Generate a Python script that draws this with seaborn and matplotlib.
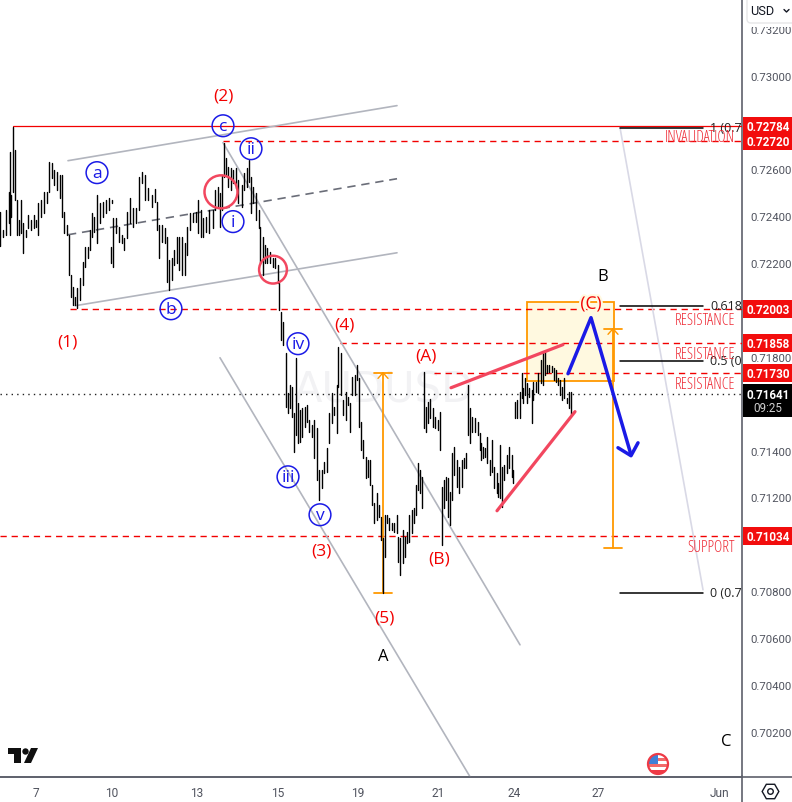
import numpy as np
import pandas as pd
import matplotlib
matplotlib.use("Agg")
import matplotlib.pyplot as plt
import matplotlib.patheffects as pe
from matplotlib.patches import Rectangle, Circle, Polygon, FancyBboxPatch
import seaborn as sns

# Position of each bar on the session axis
bar_pos = [0,3,6,9,10,11,13,15,17,19,21,23,26,28,31,34,36,38,41,44,47,49,52,54,57,60,62,64,67,69,71,73,75,77,80,83,85,88,90,92,94,97,100,103,106,109,112,111,113,116,119,122,124,127,130,133,136,139,142,145,148,
152,155,157,159,162,165,167,169,172,174,177,179,182,185,187,190,193,196,198,201,203,206,209,213,215,218,220,222,224,226,228,231,233,236,238,242,244,247,249,251,253,256,259,260,263,265,267,270,273,275,278,279,
281,283,286,288,290,292,294,296,298,300,302,305,307,309,312,314,317,319,322,324,327,329,332,334,337,338,341,343,346,348,350,352,355,357,359,361,363,366,368,
370,372,374,377,379,381,383,385,387,389,392,394,397,398,400,403,405,407,409,412,414,416,418,420,422,424,426,428,430,433,435,438,440,442,444,446,448,450,452,454,457,459,462,464,466,468,470,472,475,478,480,
481,483,485,487,490,492,494,497,498,500,502,504,507,509,512,513,515,517,520,522,523,525,527,529,532,533,536,538,541,543,545,547,549,552,554,556,558,560,562,564,567,569,571]

# Bar highs and lows, in units of 0.00001 USD
highs = [72419,72342,72428,72505,72675,72492,72782,72684,72470,72385,72470,72372,72342,72406,72385,72406,72385,72458,72470,72505,72505,72633,72628,72598,72590,72577,72577,72419,72364,72321,72150,72099,72056,72095,72138,72206,72270,72270,72342,72415,72398,72492,72458,72462,72470,72479,72470,72270,72394,72394,72355,72321,72308,72419,72479,72436,72436,72569,72590,72577,72522,
72492,72517,72462,72364,72364,72351,72312,72214,72223,72257,72312,72312,72312,72287,72355,72415,72415,72419,72470,72428,72394,72398,72428,72428,72513,72526,72500,72577,72713,72650,72611,72607,72598,72607,72556,72534,72586,72607,72641,72569,72526,72500,72428,72355,72312,72278,72266,72249,72223,72223,72193,72116,
71993,71950,71817,71647,71681,71672,71561,71796,71604,71574,71583,71587,71595,71531,71510,71531,71497,71318,71318,71352,71412,71561,71647,71587,71681,71843,71817,71617,71651,71630,71604,71715,71724,71766,71711,71523,71446,71373,71361,
71361,71254,71177,71220,71169,71118,71028,71126,71126,71113,71092,71092,71126,71032,71028,71062,71032,71053,71126,71147,71156,71254,71348,71318,71288,71736,71587,71608,71621,71583,71544,71531,71565,71245,71275,71288,71284,71224,71391,71416,71361,71331,71361,71369,71391,71681,71583,71544,71540,71523,71476,
71433,71416,71412,71459,71361,71446,71331,71305,71263,71425,71331,71339,71382,71416,71382,71318,71608,71617,71651,71732,71668,71711,71689,71668,71659,71694,71694,71732,71788,71822,71822,71766,71766,71762,71753,71745,71711,71702,71672,71711,71625,71651,71651]
lows = [72274,72312,72321,72372,72321,72398,72505,72470,72321,72321,72329,72244,72312,72351,72342,72351,72355,72321,72398,72415,72458,72505,72564,72534,72513,72479,72398,72329,72321,72150,72056,72022,72022,72009,72044,72108,72184,72223,72257,72312,72334,72287,72372,72398,72415,72428,72458,72202,72184,72329,72291,72287,72257,72308,72372,72355,72372,72428,72543,72470,72470,
72441,72462,72342,72223,72291,72287,72120,72086,72129,72193,72202,72172,72150,72150,72236,72342,72377,72377,72329,72312,72312,72334,72329,72351,72428,72441,72355,72428,72569,72577,72526,72513,72543,72522,72458,72441,72513,72526,72547,72415,72458,72385,72351,72202,72150,72202,72202,72202,72184,72180,72116,72001,
71873,71852,71587,71561,71583,71544,71395,71467,71433,71438,71459,71502,71523,71480,71459,71369,71275,71190,71242,71305,71310,71433,71519,71553,71476,71672,71638,71553,71531,71595,71480,71638,71638,71702,71502,71403,71369,71284,71288,
71254,71169,71092,71105,71118,71019,70793,70947,71092,71062,71062,71053,71049,70925,70870,70921,70947,71006,71011,71049,71092,71126,71233,71220,71156,71497,71480,71519,71540,71502,71497,71489,71403,70998,71156,71190,71118,71084,71190,71297,71245,71220,71245,71327,71327,71467,71433,71480,71480,71467,71403,
71361,71369,71373,71348,71297,71310,71242,71220,71203,71199,71160,71275,71305,71327,71288,71263,71540,71540,71540,71625,71604,71638,71604,71630,71519,71617,71651,71647,71689,71681,71724,71732,71736,71736,71702,71694,71681,71638,71617,71625,71604,71583,71557]

price_ticks = [0.732,0.730,0.726,0.724,0.722,0.718,0.714,0.712,0.708,0.706,0.704,0.702]
date_positions = [36,112,197,278,358,438,514,598,720]
date_labels = ["7","10","13","15","19","21","24","27","Jun"]

level_prices = [0.72720,0.72003,0.71858,0.71730,0.71034]
level_starts = [223,70,340,434,0]
badge_prices = [0.72784,0.72720,0.72003,0.71858,0.71730,0.71034]
last_price = 0.71641

wave_marks = ["a","c","ii","i","b","iv","iii","v"]
wave_x = [97,223,251,233,171,298,288,320]
wave_y = [.72586,.72786,.72688,.72377,.72005,.71856,.71288,.71126]

degree_marks = ["(2)","(1)","(4)","(A)","(3)","(B)","(5)","(C)"]
degree_x = [223,67,344,426,321,439,384,591]
degree_y = [.72914,.71865,.71937,.71805,.70972,.70938,.70686,.72022]

major_marks = ["B","A","C"]
major_x = [603,383,726]
major_y = [.72146,.70524,.70161]

zone_names = ["INVALIDATION","RESISTANCE","RESISTANCE","RESISTANCE","SUPPORT"]
zone_y = [.72739,.71958,.71813,.71685,.70989]

fib_names = ["1 (0.7","0.618","0.5 (0","0 (0.7"]
fib_y = [.72778,.72018,.71783,.70793]

INK = "#131722"
AXIS_GREY = "#5d606b"
RED = "#f20000"
PINK = "#f2475f"
BLUE = "#1a1ae6"
ORANGE = "#ff9800"

sns.set_theme(style="white")
plt.rcParams["font.family"] = ["Open Sans", "DejaVu Sans"]

fig = plt.figure(figsize=(7.92, 8.03), dpi=100, facecolor="white")
ax = fig.add_axes([0, 25.5/803, 742/792, 777.5/803])

ax.set_xlim(0, 742)
ax.set_ylim(0.70009, 0.73327)

# OHLC-style bars: one vertical segment per session slot
bars = pd.DataFrame({
    "bar": np.repeat(np.arange(len(bar_pos)), 2),
    "pos": np.repeat(bar_pos, 2),
    "price": np.column_stack([highs, lows]).ravel() / 1e5,
})
sns.lineplot(data=bars, x="pos", y="price", units="bar", estimator=None, sort=False,
             color="black", lw=1.0, legend=False, ax=ax, zorder=4)

# Ticker watermark
ax.text(384, 0.71660, "AUDUSD", fontsize=30, color="#f2f2f4", ha="center", va="center",
        family="DejaVu Sans", zorder=1)

# Fibonacci target box
ax.add_patch(Rectangle((527, 0.71698), 87, 0.00337, fc="#fff9e0", ec=ORANGE, lw=1.3, zorder=2))

# Horizontal reference levels
ax.plot([13, 742], [0.72784, 0.72784], color=RED, lw=0.9, zorder=3)
for lvl, start in zip(level_prices, level_starts):
    ax.plot([start, 742], [lvl, lvl], color=RED, lw=1, dashes=(4.5, 3.5), zorder=3)
ax.axhline(last_price, color="#222222", lw=1, dashes=(1, 3), zorder=3)

# Channels
grey = "#b2b5be"
ax.plot([68, 397], [.72637, .72872], color=grey, lw=1.2, zorder=3)
ax.plot([75, 397], [.72018, .72244], color=grey, lw=1.2, zorder=3)
ax.plot([68, 397], [.72321, .72560], color="#6a6d78", lw=1.2, dashes=(5, 3.5), zorder=3)
ax.plot([223, 520], [.72714, .70571], color=grey, lw=1.2, zorder=3)
ax.plot([220, 470], [.71796, .70008], color=grey, lw=1.2, zorder=3)
ax.plot([620, 703], [.72778, .70806], color="#d9d9e6", lw=1.2, zorder=3)

# Fibonacci retracement lines and their clipped labels
for y, name in zip(fib_y, fib_names):
    ax.plot([620, 703], [y, y], color="black", lw=1.1, zorder=3)
    ax.text(710, y, name, fontsize=9, color="#222222", va="center", ha="left",
            clip_on=True, zorder=5)

# Measured-move rulers
for x, lo, hi in [(383, .70793, .71732), (613, .70985, .71920)]:
    ax.plot([x, x], [lo, hi], color=ORANGE, lw=1.3, zorder=3)
    ax.plot([x-9, x+9], [lo, lo], color=ORANGE, lw=1.3, zorder=3)
    ax.plot([x-9, x+9], [hi, hi], color=ORANGE, lw=1.3, zorder=3)
    ax.plot([x-5, x, x+5], [hi-.00024, hi, hi-.00024], color=ORANGE, lw=1, zorder=3)

# Wedge and projected path
ax.plot([451, 563], [.71668, .71852], color=PINK, lw=2.3, solid_capstyle="round", zorder=5)
ax.plot([497, 575], [.71143, .71566], color=PINK, lw=2.3, solid_capstyle="round", zorder=5)
ax.plot([568, 591, 631], [.71728, .71967, .71382], color=BLUE, lw=2.5, zorder=6)
ax.plot([618, 631, 638], [.71412, .71378, .71433], color=BLUE, lw=2.5, zorder=6)

# Wave markers
sns.scatterplot(x=[221, 273], y=[.72504, .72172], s=[565, 400], marker="o",
                facecolors="none", edgecolor=PINK, linewidth=1.8, legend=False, ax=ax, zorder=5)
sns.scatterplot(x=wave_x, y=wave_y, s=245, marker="o", facecolors="none",
                edgecolor=BLUE, linewidth=1.1, legend=False, ax=ax, zorder=6)
for x, y, t in zip(wave_x, wave_y, wave_marks):
    ax.text(x, y, t, color=BLUE, fontsize=12.5, ha="center", va="center", zorder=7)
for x, y, t in zip(degree_x, degree_y, degree_marks):
    label = ax.text(x, y, t, color=RED, fontsize=12.5, ha="center", va="center", zorder=7)
    if t == "(C)":
        label.set_path_effects([pe.withStroke(linewidth=3, foreground="#fff9e0")])
for x, y, t in zip(major_x, major_y, major_marks):
    ax.text(x, y, t, color="black", fontsize=12, ha="center", va="center", zorder=7)
for y, t in zip(zone_y, zone_names):
    ax.text(735, y, t, color="#ee2a35", fontsize=11.3, ha="right", va="center", zorder=7,
            stretch="condensed")

# Axes
ax.yaxis.tick_right()
ax.set_yticks(price_ticks, [f"{p:.5f}" for p in price_ticks])
ax.set_xticks(date_positions, date_labels)
ax.tick_params(axis="y", length=0, pad=6.3, labelsize=8.2, labelcolor="#50535e")
ax.tick_params(axis="x", length=0, pad=7, labelsize=8.6, labelcolor="#50535e")
for lab in ax.get_yticklabels() + ax.get_xticklabels():
    lab.set_family("Roboto")
ax.set_xlabel("")
ax.set_ylabel("")
for side in ("top", "left"):
    ax.spines[side].set_visible(False)
for side in ("right", "bottom"):
    ax.spines[side].set_color(AXIS_GREY)
    ax.spines[side].set_linewidth(1.2)
    ax.spines[side].set_visible(True)

# Price badges on the right-hand scale
ytrans = ax.get_yaxis_transform()
for p in badge_prices:
    ax.add_patch(Rectangle((1.0015, p-.00038), 50/742, .00076, fc="#f20d0d", ec="none",
                           transform=ytrans, clip_on=False, zorder=8))
    ax.text(1.0015+25/742, p, f"{p:.5f}", color="white", fontsize=8.4, ha="center", va="center",
            fontweight="bold", family="Roboto", transform=ytrans, clip_on=False, zorder=9)
ax.add_patch(Rectangle((1.0015, last_price-.00096), 50/742, .00137, fc="black", ec="none",
                       transform=ytrans, clip_on=False, zorder=8))
ax.text(1.0015+25/742, last_price, f"{last_price:.5f}", color="white", fontsize=8.4, ha="center",
        va="center", fontweight="bold", family="Roboto", transform=ytrans, clip_on=False, zorder=9)
ax.text(1.0015+25/742, last_price-.00056, "09:25", color="#d0d0d0", fontsize=8.4, ha="center",
        va="center", family="Roboto", transform=ytrans, clip_on=False, zorder=9)

# Interface furniture drawn on a full-figure overlay
ui = fig.add_axes([0, 0, 1, 1], facecolor="none")
ui.set_xlim(0, 792)
ui.set_ylim(803, 0)
ui.axis("off")

ui.plot([0, 792], [777.5, 777.5], color=AXIS_GREY, lw=1.2)
ui.plot([742, 742], [777, 803], color=AXIS_GREY, lw=1.2)

ui.add_patch(Rectangle((743, 0), 49, 28, fc="white", ec="none"))
ui.add_patch(FancyBboxPatch((747, -6), 50, 30, boxstyle="round,pad=0,rounding_size=4",
                            fc="white", ec="#e6e6e8", lw=1))
ui.text(750, 11.5, "USD", fontsize=9.2, family="Roboto", color="#131722", va="center")
ui.plot([784, 786.5, 789], [10.5, 13, 10.5], color="#131722", lw=1)

# Settings button
ui.plot([770], [792], marker="H", ms=12, mfc="white", mec=INK, mew=1)
ui.plot([770], [792], marker="o", ms=4, mfc="white", mec=INK, mew=1)

# Platform logo
ui.add_patch(Polygon([(8, 749), (21, 749), (21, 764), (14, 764), (14, 755), (8, 755)], fc="#101010", ec="none"))
ui.add_patch(Circle((25.5, 752.5), 3.2, fc="#101010", ec="none"))
ui.add_patch(Polygon([(31, 749), (38, 749), (31, 764), (24, 764)], fc="#101010", ec="none"))

# Economic event flag
disc = Circle((658, 765), 10, fc="white", ec="none", zorder=1)
ui.add_patch(disc)
for top, h, col in [(759, 3, "#f26a6a"), (765, 3, "#f26a6a"), (771, 3, "#ee3a46")]:
    r = Rectangle((648, top), 20, h, fc=col, ec="none", zorder=2)
    ui.add_patch(r)
    r.set_clip_path(disc)
canton = Rectangle((648, 755), 10, 10, fc="#3f7fd8", ec="none", zorder=3)
ui.add_patch(canton)
canton.set_clip_path(disc)
ui.add_patch(Circle((658, 765), 10, fc="none", ec="#ee3a46", lw=1.6, zorder=4))

fig.savefig("out.png", dpi=100)
